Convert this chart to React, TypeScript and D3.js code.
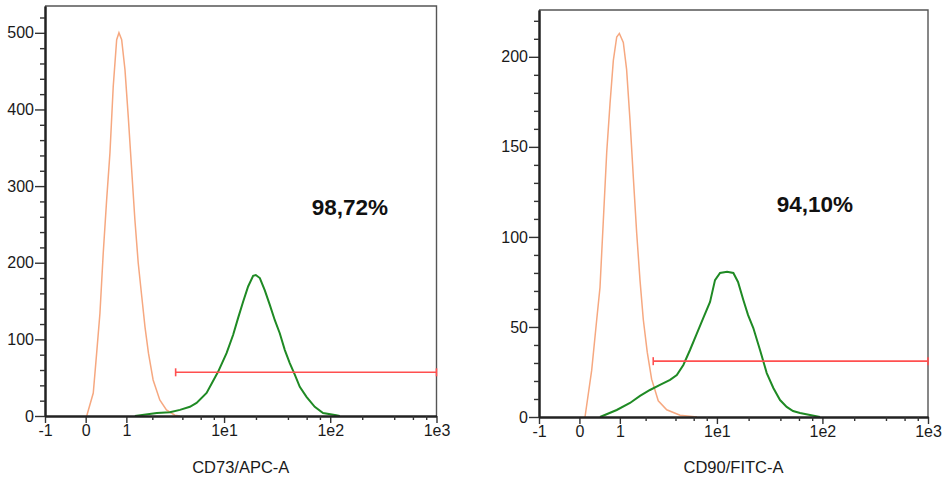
import * as d3 from "d3";
import { useRef, useEffect } from "react";

// shared x axis (arcsinh display, -1 .. 1e3)
const xMajorTicks = [-1, 0, 1, 10, 100, 1000];
const xTickLabels = ["-1", "0", "1", "1e1", "1e2", "1e3"];
const xMinorTicks = [2, 4, 6, 8, 20, 40, 60, 80, 200, 400, 600, 800];

// --- CD73 / APC-A ---
const cd73YTicks = [0, 100, 200, 300, 400, 500];
const cd73IsoX = [0.022, 0.165, 0.24, 0.314, 0.39, 0.47, 0.55, 0.633, 0.723, 0.785, 0.861, 0.958, 1.06, 1.17, 1.28, 1.4, 1.54, 1.67, 1.82, 2.04, 2.39, 2.79, 3.38, 3.8];
const cd73IsoCount = [0, 30, 82, 134, 213, 282, 343, 430, 491, 500, 491, 452, 390, 321, 256, 200, 155, 116, 82, 47, 21, 8, 1, 0];
const cd73StainX = [1.28, 2.23, 3.02, 3.79, 4.73, 5.48, 6.83, 8.8, 10.56, 12.19, 13.58, 15.13, 16.87, 18.81, 19.93, 21.75, 24.23, 27.0, 30.1, 33.5, 37.4, 41.6, 46.4, 51.7, 59.8, 71.5, 85.6, 114, 123];
const cd73StainCount = [0, 4, 5, 8, 12, 17, 30, 58, 82, 106, 128, 149, 169, 183, 184, 180, 164, 145, 125, 108, 86, 69, 54, 38, 25, 12, 4, 1, 0];
const cd73Gate = [3.44, 1000];
const cd73GateLevel = 57;
const cd73Percent = "98,72%";

// --- CD90 / FITC-A ---
const cd90YTicks = [0, 50, 100, 150, 200];
const cd90IsoX = [0.122, 0.271, 0.386, 0.464, 0.545, 0.631, 0.718, 0.809, 0.906, 0.985, 1.11, 1.22, 1.34, 1.47, 1.6, 1.74, 1.89, 2.08, 2.31, 2.7, 3.28, 4.43, 6.45];
const cd90IsoCount = [0, 26, 54, 72, 109, 147, 174, 198, 211, 213, 208, 193, 165, 132, 102, 76, 54, 36, 21, 9, 4, 1, 0];
const cd90StainX = [0.464, 0.906, 1.34, 1.74, 2.22, 2.81, 3.54, 4.12, 4.77, 5.53, 6.41, 7.42, 8.6, 9.59, 10.71, 12.48, 14.33, 15.87, 17.82, 19.73, 22.16, 25.65, 29.7, 34.3, 39.7, 45.9, 52.7, 61.4, 76.3, 94.9];
const cd90StainCount = [0, 3.9, 7.8, 11.7, 15, 17.8, 20.6, 23.3, 28.9, 37.2, 46.1, 55, 63.9, 76, 80, 80.6, 80, 75, 65, 56.7, 49.4, 37.2, 24.4, 16.1, 9.4, 5.6, 3.3, 2.2, 1.1, 0];
const cd90Gate = [2.4, 1000];
const cd90GateLevel = 31;
const cd90Percent = "94,10%";

const FONT = "'Liberation Sans', Arial, sans-serif";

function Histogram({ box, yMax, yTicks, yMinorStep, isoX, isoY, stainX, stainY, gate, gateLevel, label, labelAt, title }) {
  const ref = useRef(null);

  useEffect(() => {
    const [left, top, right, bottom] = box;
    const g = d3.select(ref.current);
    g.selectAll("*").remove();

    const x = d3.scaleLinear()
      .domain([Math.asinh(-1), Math.asinh(1000)])
      .range([left, right]);
    const fx = (v) => x(Math.asinh(v));
    const y = d3.scaleLinear().domain([0, yMax]).range([bottom, top]);

    const line = d3.line().x((d) => fx(d[0])).y((d) => y(d[1]));

    // frame: top/right lighter, left/bottom drawn by axes
    g.append("path")
      .attr("d", `M${left},${top}H${right}V${bottom}`)
      .attr("fill", "none")
      .attr("stroke", "#555")
      .attr("stroke-width", 1.4);

    // histograms
    g.append("path")
      .datum(d3.zip(isoX, isoY))
      .attr("d", line)
      .attr("fill", "none")
      .attr("stroke", "#F6A880")
      .attr("stroke-width", 1.5);

    g.append("path")
      .datum(d3.zip(stainX, stainY))
      .attr("d", line)
      .attr("fill", "none")
      .attr("stroke", "#1F8A24")
      .attr("stroke-width", 2);

    // gate marker
    const gy = y(gateLevel);
    g.append("line")
      .attr("x1", fx(gate[0])).attr("x2", fx(gate[1]))
      .attr("y1", gy).attr("y2", gy)
      .attr("stroke", "#FF4F4F").attr("stroke-width", 1.6);
    gate.forEach((v) => {
      g.append("line")
        .attr("x1", fx(v)).attr("x2", fx(v))
        .attr("y1", gy - 4).attr("y2", gy + 4)
        .attr("stroke", "#FF4F4F").attr("stroke-width", 1.6);
    });

    const styleAxis = (a) => {
      a.select(".domain").attr("stroke", "#222").attr("stroke-width", 2);
      a.selectAll(".tick line").attr("stroke", "#333").attr("stroke-width", 1.4);
      a.selectAll(".tick text")
        .attr("fill", "#1a1a1a")
        .style("font-family", FONT)
        .style("font-size", "16px");
    };

    // x axis
    g.append("g")
      .attr("transform", `translate(0,${bottom})`)
      .call(d3.axisBottom(x)
        .tickValues(xMajorTicks.map(Math.asinh))
        .tickFormat((d, i) => xTickLabels[i])
        .tickSize(7).tickSizeOuter(0).tickPadding(2))
      .call(styleAxis);
    g.append("g")
      .attr("transform", `translate(0,${bottom})`)
      .call(d3.axisBottom(x)
        .tickValues(xMinorTicks.map(Math.asinh))
        .tickFormat(() => "")
        .tickSize(4).tickSizeOuter(0))
      .call(styleAxis);

    // y axis
    g.append("g")
      .attr("transform", `translate(${left},0)`)
      .call(d3.axisLeft(y).tickValues(yTicks).tickSize(10).tickSizeOuter(0).tickPadding(1))
      .call(styleAxis);
    g.append("g")
      .attr("transform", `translate(${left},0)`)
      .call(d3.axisLeft(y)
        .tickValues(d3.range(0, yMax, yMinorStep).filter((v) => !yTicks.includes(v)))
        .tickFormat(() => "")
        .tickSize(5).tickSizeOuter(0))
      .call(styleAxis);

    // axis title
    g.append("text")
      .attr("x", (left + right) / 2)
      .attr("y", 473)
      .attr("text-anchor", "middle")
      .attr("fill", "#1a1a1a")
      .style("font-family", FONT)
      .style("font-size", "16.5px")
      .text(title);

    // percentage label
    g.append("text")
      .attr("x", fx(labelAt[0]))
      .attr("y", y(labelAt[1]))
      .attr("fill", "#111")
      .style("font-family", FONT)
      .style("font-size", "22.5px")
      .style("font-weight", "bold")
      .text(label);
  }, []);

  return <g ref={ref}></g>;
}

export default function App() {
  return (
    <svg width={949} height={486} style={{ position: "absolute", left: 0, top: 0, background: "#fff" }}>
      <Histogram
        box={[45, 6, 436.5, 416]}
        yMax={535}
        yTicks={cd73YTicks}
        yMinorStep={20}
        isoX={cd73IsoX}
        isoY={cd73IsoCount}
        stainX={cd73StainX}
        stainY={cd73StainCount}
        gate={cd73Gate}
        gateLevel={cd73GateLevel}
        label={cd73Percent}
        labelAt={[67, 262]}
        title="CD73/APC-A"
      />
      <Histogram
        box={[539, 10, 928, 417]}
        yMax={226}
        yTicks={cd90YTicks}
        yMinorStep={10}
        isoX={cd90IsoX}
        isoY={cd90IsoCount}
        stainX={cd90StainX}
        stainY={cd90StainCount}
        gate={cd90Gate}
        gateLevel={cd90GateLevel}
        label={cd90Percent}
        labelAt={[37, 114]}
        title="CD90/FITC-A"
      />
    </svg>
  );
}
